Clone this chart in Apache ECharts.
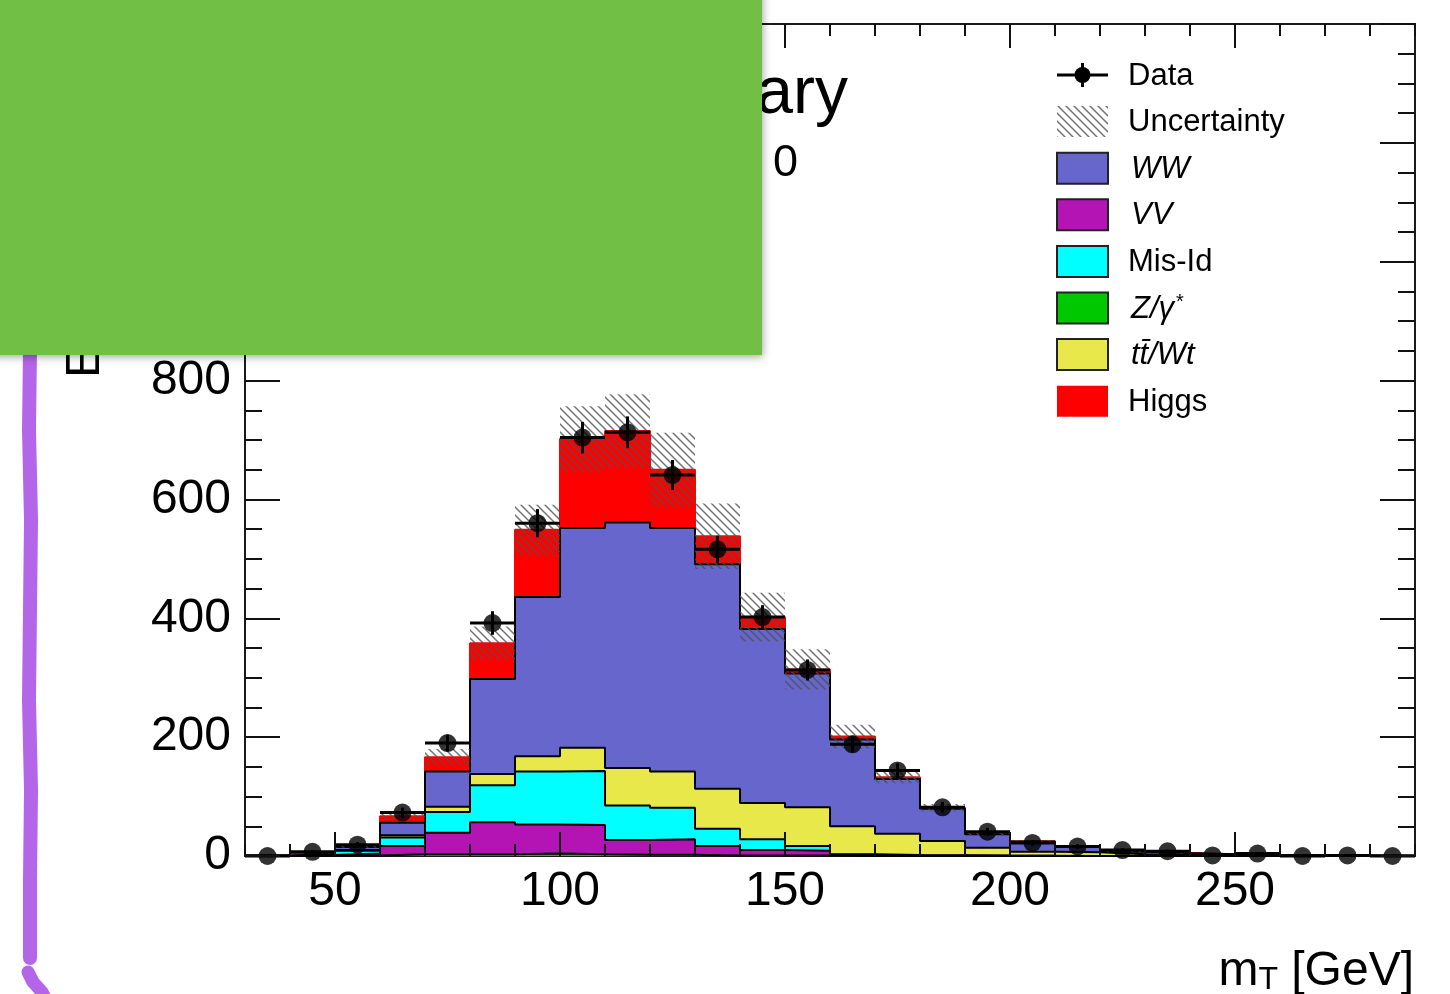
<!DOCTYPE html>
<html>
<head>
<meta charset="utf-8">
<script src="https://cdn.jsdelivr.net/npm/echarts@6/dist/echarts.min.js"></script>
<style>
  html, body { margin: 0; padding: 0; background: #ffffff; }
  #chart { width: 1450px; height: 994px; }
</style>
</head>
<body>
<div id="chart"></div>
<script>
// ---- histogram content: transverse mass, 10 GeV bins from 30 to 290 GeV ----
const binLow = [30, 40, 50, 60, 70, 80, 90, 100, 110, 120, 130, 140, 150,
                160, 170, 180, 190, 200, 210, 220, 230, 240, 250, 260, 270, 280];
const binWidth = 10;

// background / signal expectations per bin (events)
const zGamma = [0, 0.5, 1, 3, 3, 3, 4, 3, 2, 2, 1, 1, 1, 0, 0, 0, 0, 0, 0, 0, 0, 0, 0, 0, 0, 0];
const vv     = [0.2, 1, 3, 14, 36, 54, 49, 49, 25, 26, 16, 9, 8, 2, 1, 1, 0.5, 0.3, 0.2, 0.1, 0, 0, 0, 0, 0, 0];
const misId  = [0.2, 1.5, 5, 14, 35, 62, 89, 91, 58, 53, 29, 18, 8, 1, 0.5, 0.3, 0.2, 0, 0, 0, 0, 0, 0, 0, 0, 0];
const ttbar  = [0, 0.5, 1, 4, 9, 19, 26, 39, 63, 61, 67, 61, 65, 47, 36, 24, 13, 7, 6, 3, 2, 1, 1, 0.5, 0.4, 0.3];
const ww     = [0.3, 2.5, 5, 21, 59, 160, 268, 370, 413, 410, 378, 293, 225, 146, 92, 54, 23, 17, 9, 4, 3, 2, 1, 0.7, 0.5, 0.3];
const higgs  = [0, 0.5, 1, 11, 24, 60, 113, 150, 154, 98, 47, 20, 7, 5, 3, 2, 1, 0.7, 0.5, 0.3, 0.2, 0, 0, 0, 0, 0];

// total systematic uncertainty on the expectation (events)
const mcUnc  = [0.2, 1, 2, 5, 14, 28, 42, 55, 62, 62, 55, 41, 34, 20, 10, 6, 3, 2, 1.5, 1, 0.8, 0.5, 0.4, 0.3, 0.2, 0.2];

// observed events and their statistical errors
const dataCounts = [0, 7, 19, 73, 190, 392, 560, 704, 713, 641, 516, 402, 313, 188, 144, 82, 41, 22, 16, 10, 8, 1, 4, 0, 1, 0];
const dataErr    = [0, 2.6, 4.4, 8.5, 13.8, 19.8, 23.7, 26.5, 26.7, 25.3, 22.7, 20, 17.7, 13.7, 12, 9.1, 6.4, 4.7, 4, 3.2, 2.8, 1, 2, 0, 1, 0];

// axis ticks
const xMajorTicks = [50, 100, 150, 200, 250];
const xMinorTicks = [30, 40, 60, 70, 80, 90, 110, 120, 130, 140, 160, 170, 180, 190,
                     210, 220, 230, 240, 260, 270, 280, 290];
const xMin = 30, xMax = 290;
const yMin = 0, yMax = 1400, yStep = 200;

// ---- styling ----
const FONT = '"Liberation Sans", Arial, Helvetica, sans-serif';
const COL = {
  ww: '#6666cc', vv: '#b414b4', misId: '#00ffff', z: '#00c800',
  tt: '#e9e84a', higgs: '#ff0000'
};

// diagonal hatch used for the uncertainty band
const hatchCanvas = document.createElement('canvas');
hatchCanvas.width = 8; hatchCanvas.height = 8;
(function () {
  const c = hatchCanvas.getContext('2d');
  c.strokeStyle = 'rgba(80,80,80,0.8)';
  c.lineWidth = 1.5;
  c.beginPath();
  c.moveTo(-4, -4); c.lineTo(12, 12);
  c.moveTo(-8, 0); c.lineTo(8, 16);
  c.moveTo(0, -8); c.lineTo(16, 8);
  c.stroke();
})();
const hatchFill = { image: hatchCanvas, repeat: 'repeat' };

// stacking order from the bottom up
const layers = [
  { name: 'Z/γ*', values: zGamma, color: COL.z, edge: '#000' },
  { name: 'VV', values: vv, color: COL.vv, edge: '#000' },
  { name: 'Mis-Id', values: misId, color: COL.misId, edge: '#000' },
  { name: 'tt/Wt', values: ttbar, color: COL.tt, edge: '#000' },
  { name: 'WW', values: ww, color: COL.ww, edge: '#000' },
  { name: 'Higgs', values: higgs, color: COL.higgs, edge: COL.higgs }
];

// cumulative sums: each layer is drawn as the running total filled down to zero,
// upper layers first so that the lower ones paint over them
const cumulative = [];
layers.forEach((l, k) => {
  cumulative.push(binLow.map((_, i) => l.values[i] + (k > 0 ? cumulative[k - 1][i] : 0)));
});
const totals = cumulative[cumulative.length - 1];

const lastIdx = binLow.length - 1;
const stepData = (vals) => binLow.map((x, i) => [x, vals[i]]).concat([[binLow[lastIdx] + binWidth, vals[lastIdx]]]);

const stackSeries = layers.map((l, k) => ({
  name: l.name,
  type: 'line',
  step: 'end',
  symbol: 'none',
  silent: true,
  z: 2,
  lineStyle: { color: l.edge, width: 2 },
  areaStyle: { color: l.color, opacity: 1, origin: 'start' },
  data: stepData(cumulative[k])
})).reverse();

const uncSeries = {
  name: 'Uncertainty',
  type: 'custom',
  z: 4,
  silent: true,
  encode: { x: [0, 1], y: [2, 3] },
  data: binLow.map((x, i) => [x, x + binWidth, Math.max(totals[i] - mcUnc[i], 0), totals[i] + mcUnc[i]]),
  renderItem: function (params, api) {
    const p0 = api.coord([api.value(0), api.value(3)]);
    const p1 = api.coord([api.value(1), api.value(2)]);
    return {
      type: 'rect',
      shape: { x: p0[0], y: p0[1], width: p1[0] - p0[0], height: p1[1] - p0[1] },
      style: { fill: hatchFill }
    };
  }
};

const errSeries = {
  name: 'Data errors',
  type: 'custom',
  z: 6,
  clip: false,
  silent: true,
  encode: { x: [0, 1], y: [2] },
  data: binLow.map((x, i) => [x, x + binWidth, dataCounts[i], dataErr[i]]),
  renderItem: function (params, api) {
    const lo = api.value(0), hi = api.value(1), v = api.value(2), e = api.value(3);
    const mid = (lo + hi) / 2;
    const a = api.coord([lo, v]), b = api.coord([hi, v]);
    const c = api.coord([mid, v + e]), d = api.coord([mid, Math.max(v - e, 0)]);
    const st = { stroke: '#000', lineWidth: 3 };
    return {
      type: 'group',
      children: [
        { type: 'line', shape: { x1: a[0], y1: a[1], x2: b[0], y2: b[1] }, style: st },
        { type: 'line', shape: { x1: c[0], y1: c[1], x2: d[0], y2: d[1] }, style: st }
      ]
    };
  }
};

const dataSeries = {
  name: 'Data',
  type: 'scatter',
  z: 7,
  clip: false,
  silent: true,
  symbol: 'circle',
  symbolSize: 18,
  itemStyle: { color: '#000' },
  data: binLow.map((x, i) => [x + binWidth / 2, dataCounts[i]])
};

// ---- axes ----
function xAxisDef(pos, ticks, len, labels) {
  return {
    type: 'value', min: xMin, max: xMax, position: pos, z: 10,
    axisLine: { show: false },
    splitLine: { show: false },
    axisTick: { show: true, inside: true, length: len, customValues: ticks,
                lineStyle: { color: '#111', width: 2 } },
    axisLabel: labels ? { show: true, customValues: ticks, fontSize: 48, fontFamily: FONT,
                          color: '#000', margin: 12 } : { show: false }
  };
}
function yAxisDef(pos, labels) {
  return {
    type: 'value', min: yMin, max: yMax, interval: yStep, position: pos, z: 10,
    axisLine: { show: false },
    splitLine: { show: false },
    axisTick: { show: true, inside: true, length: 35, lineStyle: { color: '#111', width: 2 } },
    minorTick: { show: true, splitNumber: 4, length: 17, lineStyle: { color: '#111', width: 2 } },
    axisLabel: labels ? { show: true, fontSize: 48, fontFamily: FONT, color: '#000', margin: 14 } : { show: false }
  };
}

// ---- legend (drawn as graphics) ----
const legendRows = [
  { label: 'Data', kind: 'data' },
  { label: 'Uncertainty', kind: 'hatch' },
  { label: 'WW', kind: 'box', color: COL.ww, italic: true },
  { label: 'VV', kind: 'box', color: COL.vv, italic: true },
  { label: 'Mis-Id', kind: 'box', color: COL.misId },
  { label: 'Z/γ*', kind: 'box', color: COL.z, italic: true, rich: '{it|Z/γ}{sup|*}' },
  { label: 'tt̄/Wt', kind: 'box', color: COL.tt, italic: true },
  { label: 'Higgs', kind: 'box', color: COL.higgs, noBorder: true }
];

const legendGraphics = [];
const lgX = 1057, lgW = 51, lgH = 31, lgY0 = 75, lgDy = 46.6;
legendRows.forEach((r, i) => {
  const cy = lgY0 + i * lgDy;
  if (r.kind === 'data') {
    legendGraphics.push({ type: 'line', shape: { x1: lgX, y1: cy, x2: lgX + lgW, y2: cy }, style: { stroke: '#000', lineWidth: 3 } });
    legendGraphics.push({ type: 'line', shape: { x1: lgX + lgW / 2, y1: cy - 12, x2: lgX + lgW / 2, y2: cy + 12 }, style: { stroke: '#000', lineWidth: 3 } });
    legendGraphics.push({ type: 'circle', shape: { cx: lgX + lgW / 2, cy: cy, r: 8 }, style: { fill: '#000' } });
  } else if (r.kind === 'hatch') {
    legendGraphics.push({ type: 'rect', shape: { x: lgX, y: cy - lgH / 2, width: lgW, height: lgH }, style: { fill: hatchFill } });
  } else {
    legendGraphics.push({
      type: 'rect', shape: { x: lgX, y: cy - lgH / 2, width: lgW, height: lgH },
      style: { fill: r.color, stroke: r.noBorder ? null : '#222', lineWidth: r.noBorder ? 0 : 2 }
    });
  }
  const tx = r.italic ? 1131 : 1128;
  legendGraphics.push({
    type: 'text', x: tx, y: cy + 1,
    style: {
      text: r.rich || r.label,
      fontSize: 31, fontFamily: FONT, fontStyle: r.italic ? 'italic' : 'normal',
      fill: '#000', verticalAlign: 'middle', align: 'left',
      rich: {
        it: { fontSize: 31, fontFamily: FONT, fontStyle: 'italic', fill: '#000' },
        sup: { fontSize: 20, fontFamily: FONT, fill: '#000', verticalAlign: 'top', padding: [0, 0, 14, 2] }
      }
    }
  });
});

const chart = echarts.init(document.getElementById('chart'), null, { renderer: 'canvas' });
chart.setOption({
  animation: false,
  backgroundColor: '#ffffff',
  grid: {
    left: 245, right: 35, top: 16, bottom: 138,
    show: true, borderColor: '#1a1a1a', borderWidth: 2, backgroundColor: 'transparent'
  },
  xAxis: [
    xAxisDef('bottom', xMajorTicks, 24, true),
    xAxisDef('bottom', xMinorTicks, 12, false),
    xAxisDef('top', xMajorTicks, 24, false),
    xAxisDef('top', xMinorTicks, 12, false)
  ],
  yAxis: [
    yAxisDef('left', true),
    yAxisDef('right', false)
  ],
  series: stackSeries.concat([uncSeries, errSeries, dataSeries]),
  graphic: [
    // axis titles
    {
      type: 'text', x: 86, y: 378, rotation: Math.PI / 2, z: 50,
      style: { text: 'Events / 10 GeV', fontSize: 48, fontFamily: FONT, fill: '#000',
               align: 'left', verticalAlign: 'middle' }
    },
    {
      type: 'text', x: 1414, y: 972, z: 50,
      style: {
        text: '{m|m}{s|T}{m| [GeV]}', align: 'right', verticalAlign: 'middle',
        rich: {
          m: { fontSize: 48, fontFamily: FONT, fill: '#000' },
          s: { fontSize: 32, fontFamily: FONT, fill: '#000', verticalAlign: 'bottom', padding: [14, 0, 0, 0] }
        }
      }
    },
    // labels in the upper-left of the frame
    {
      type: 'text', x: 848, y: 95, z: 50,
      style: {
        text: '{b|ATLAS} {n|Preliminary}', align: 'right', verticalAlign: 'middle',
        rich: {
          b: { fontSize: 66, fontFamily: FONT, fontWeight: 'bold', fontStyle: 'italic', fill: '#000' },
          n: { fontSize: 66, fontFamily: FONT, fill: '#000' }
        }
      }
    },
    {
      type: 'text', x: 798, y: 164, z: 50,
      style: { text: 'H→WW*→eνμν, Njet = 0', fontSize: 45, fontFamily: FONT, fill: '#000',
               align: 'right', verticalAlign: 'middle' }
    },
    { type: 'group', z: 50, children: legendGraphics },
    // green panel over the upper-left corner
    {
      type: 'rect', z: 100,
      shape: { x: -10, y: -10, width: 772, height: 365 },
      style: { fill: '#71bf44', shadowBlur: 8, shadowColor: 'rgba(0,0,0,0.35)', shadowOffsetY: 2, shadowOffsetX: 1 }
    },
    // hand-drawn purple stroke along the left edge
    {
      type: 'polyline', z: 99,
      shape: { points: [[30, 350], [29, 430], [31, 520], [30, 610], [29, 700], [31, 790], [30, 880], [30, 958]] },
      style: { stroke: '#b366e8', lineWidth: 14, lineCap: 'round', lineJoin: 'round', fill: null }
    },
    {
      type: 'polyline', z: 99,
      shape: { points: [[28, 972], [33, 982], [42, 992], [46, 1000]] },
      style: { stroke: '#b366e8', lineWidth: 13, lineCap: 'round', lineJoin: 'round', fill: null }
    }
  ]
});
</script>
</body>
</html>
